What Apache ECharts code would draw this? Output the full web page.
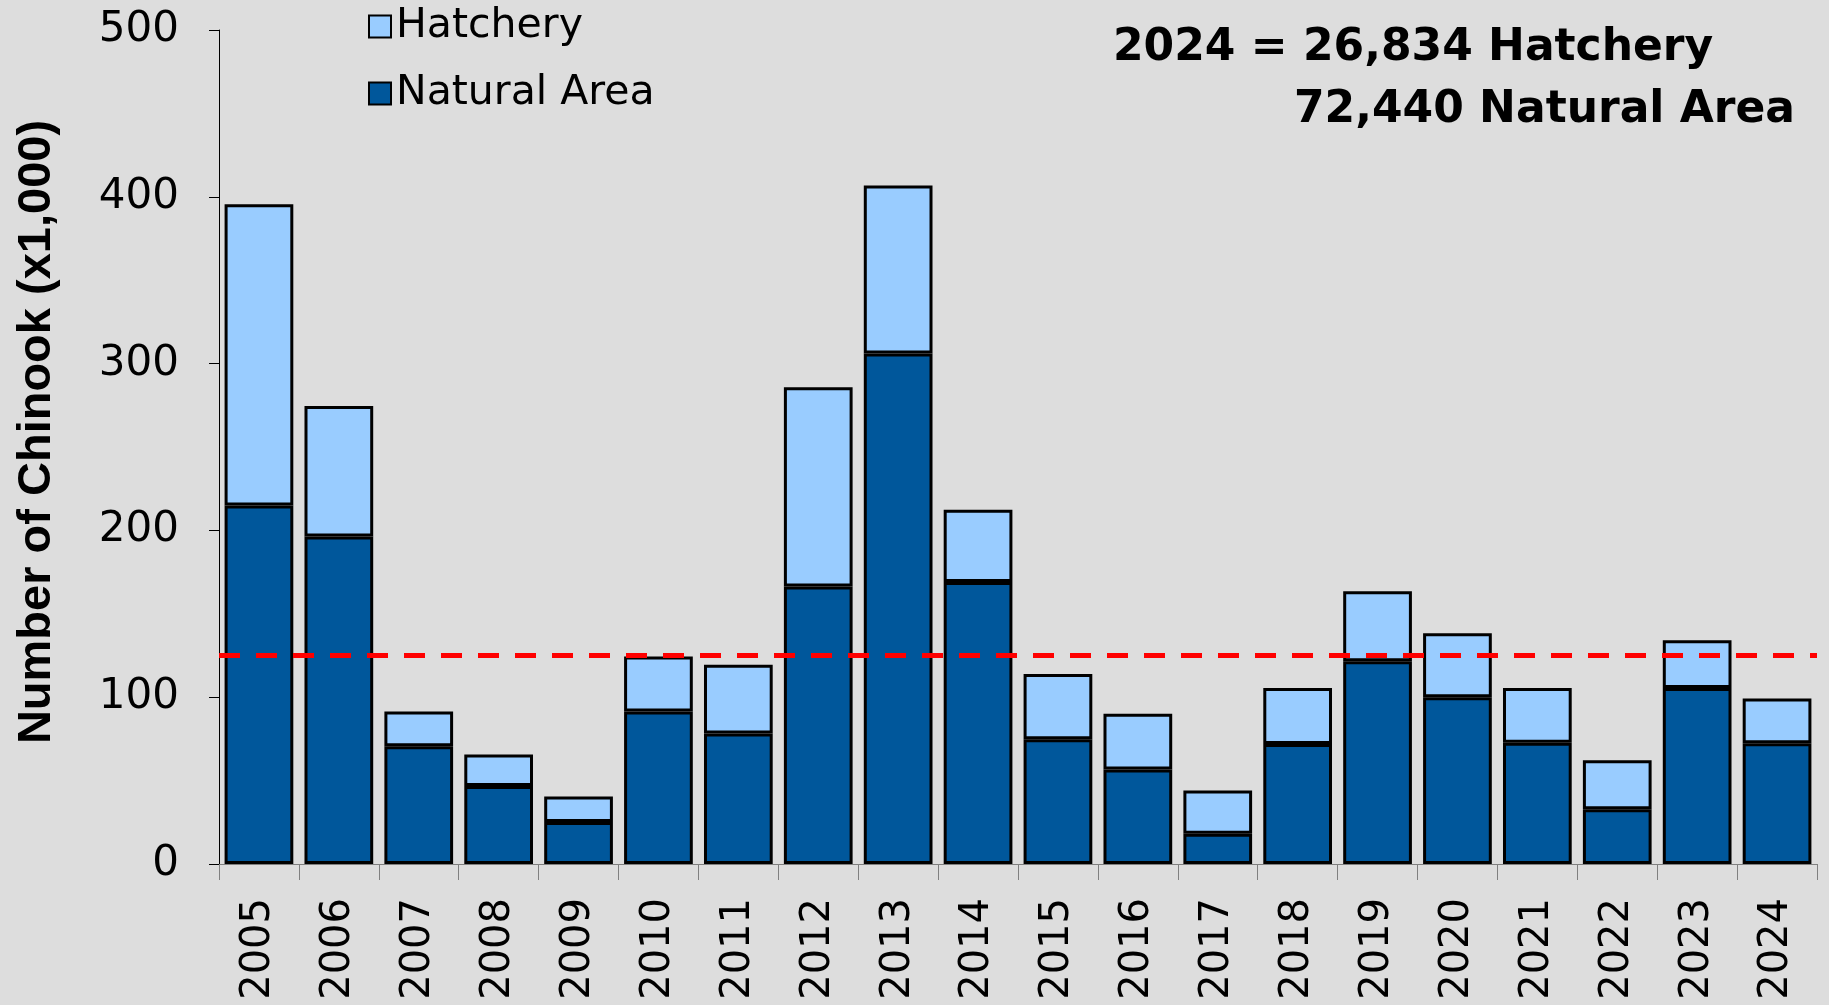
<!DOCTYPE html>
<html>
<head>
<meta charset="utf-8">
<script src="https://cdn.jsdelivr.net/npm/echarts@6/dist/echarts.min.js"></script>
<style>
html,body{margin:0;padding:0;background:#dddddd;}
#chart{width:1829px;height:1005px;}
</style>
</head>
<body>
<div id="chart"></div>
<script>
const years = ['2005','2006','2007','2008','2009','2010','2011','2012','2013','2014','2015','2016','2017','2018','2019','2020','2021','2022','2023','2024'];
const natural = [215, 196.4, 70.6, 46.8, 25.2, 91.5, 78.3, 166.3, 306.1, 169.1, 74.8, 56.6, 18.2, 72, 121.6, 99.9, 72.7, 32.8, 105.5, 72.44];
const hatchery = [180.5, 78.2, 20.9, 18.9, 15.3, 32.9, 41.2, 119.5, 100.6, 43.3, 39.1, 33.5, 25.8, 33.5, 41.9, 38.5, 32.8, 29.4, 28.7, 26.834];
const referenceLine = 125;
const yTicks = [0, 100, 200, 300, 400, 500];
const yTitle = 'Number of Chinook (x1,000)';
const annotationLines = ['2024 = 26,834 Hatchery', '72,440 Natural Area'];

const chart = echarts.init(document.getElementById('chart'));
const tickFont = '"DejaVu Sans", "Open Sans", sans-serif';
chart.setOption({
  backgroundColor: '#dddddd',
  animation: false,
  grid: {left: 219, right: 12, top: 30, bottom: 141, containLabel: false, outerBoundsMode: 'none'},
  legend: {
    data: ['Hatchery', 'Natural Area'],
    orient: 'vertical',
    left: 363, top: 1,
    itemWidth: 22, itemHeight: 22, itemGap: 26,
    icon: 'rect',
    textStyle: {fontFamily: tickFont, fontSize: 41, color: '#000', padding: [0,0,0,0]}
  },
  xAxis: {
    type: 'category',
    data: years,
    axisLine: {lineStyle: {color: '#808080', width: 1}},
    axisTick: {show: true, length: 16, lineStyle: {color: '#808080'}},
    axisLabel: {rotate: 90, margin: 34, fontFamily: tickFont, fontSize: 40, color: '#000'}
  },
  yAxis: {
    type: 'value',
    min: yTicks[0], max: yTicks[yTicks.length-1], interval: 100,
    splitLine: {show: false},
    axisLine: {show: true, lineStyle: {color: '#000', width: 1}},
    axisTick: {show: true, length: 10, lineStyle: {color: '#000'}},
    axisLabel: {margin: 40, fontFamily: tickFont, fontSize: 42, color: '#000'}
  },
  series: [
    {
      name: 'Natural Area', type: 'bar', stack: 'a',
      data: natural,
      barCategoryGap: '14%',
      itemStyle: {color: '#00579b', borderColor: '#000', borderWidth: 3},
      markLine: {
        silent: true, symbol: 'none',
        label: {show: false},
        lineStyle: {color: '#ff0000', width: 5, type: [21, 16]},
        data: [{yAxis: referenceLine}]
      }
    },
    {
      name: 'Hatchery', type: 'bar', stack: 'a',
      data: hatchery,
      itemStyle: {color: '#99ccff', borderColor: '#000', borderWidth: 3}
    }
  ],
  graphic: [
    {type: 'text', x: 37, y: 432, rotation: Math.PI / 2,
     style: {text: yTitle, font: 'bold 47px "Liberation Sans", Arial, sans-serif', fill: '#000', align: 'center', verticalAlign: 'middle'}},
    {type: 'text', left: 1113, top: 27, style: {text: annotationLines[0], font: 'bold 44px "DejaVu Sans", "Open Sans", sans-serif', fill: '#000'}},
    {type: 'text', left: 1294, top: 89, style: {text: annotationLines[1], font: 'bold 44px "DejaVu Sans", "Open Sans", sans-serif', fill: '#000'}}
  ]
});
</script>
</body>
</html>
